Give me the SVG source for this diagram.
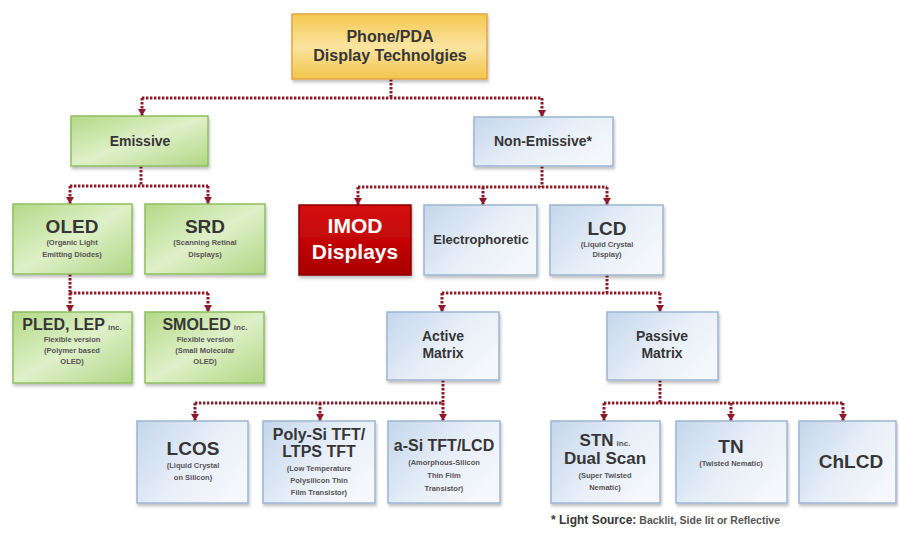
<svg xmlns="http://www.w3.org/2000/svg" width="899" height="543" viewBox="0 0 899 543">
<defs>
  <linearGradient id="gY" x1="0" y1="0" x2="0" y2="1">
    <stop offset="0" stop-color="#f3c850"/>
    <stop offset="0.5" stop-color="#fbe4a0"/>
    <stop offset="1" stop-color="#f2c54c"/>
  </linearGradient>
  <linearGradient id="gG" x1="0" y1="0" x2="1" y2="1">
    <stop offset="0" stop-color="#b3d987"/>
    <stop offset="0.5" stop-color="#dff0c8"/>
    <stop offset="1" stop-color="#b0d684"/>
  </linearGradient>
  <linearGradient id="gB" x1="0" y1="0" x2="1" y2="0.6">
    <stop offset="0" stop-color="#c4d6ec"/>
    <stop offset="0.6" stop-color="#e8eff8"/>
    <stop offset="1" stop-color="#f4f7fb"/>
  </linearGradient>
  <linearGradient id="gR" x1="0" y1="0" x2="0" y2="1">
    <stop offset="0" stop-color="#d40e0e"/>
    <stop offset="0.5" stop-color="#c40606"/>
    <stop offset="1" stop-color="#a80000"/>
  </linearGradient>
  <filter id="sh" x="-10%" y="-10%" width="125%" height="130%">
    <feDropShadow dx="1" dy="2.5" stdDeviation="1.5" flood-color="#000" flood-opacity="0.25"/>
  </filter>
  <marker id="arr" viewBox="0 0 7 8" refX="7" refY="4" markerWidth="7" markerHeight="8" markerUnits="userSpaceOnUse" orient="auto">
    <path d="M0,0 L7,4 L0,8 z" fill="#8c1b2a"/>
  </marker>
</defs>
<style>
  .con { fill: none; stroke: #8c1b2a; stroke-width: 3; stroke-dasharray: 2.4 1.6; }
  .drop { fill: none; stroke: #8c1b2a; stroke-width: 3; stroke-dasharray: 2.4 1.6; marker-end: url(#arr); }
  .y { fill: url(#gY); stroke: #e3a544; stroke-width: 1.5; filter: url(#sh); }
  .g { fill: url(#gG); stroke: #8fbf62; stroke-width: 1.5; filter: url(#sh); }
  .b { fill: url(#gB); stroke: #9cb5d4; stroke-width: 1.5; filter: url(#sh); }
  .r { fill: url(#gR); stroke: #8a0000; stroke-width: 1.5; filter: url(#sh); }
  text { font-family: "Liberation Sans", Arial, sans-serif; font-weight: bold; fill: #363636; text-anchor: middle; }
  .t15 { font-size: 15px; }
  .t14 { font-size: 14px; }
  .t13 { font-size: 13px; }
  .t18 { font-size: 19px; }
  .t17 { font-size: 16px; }
  .s { font-size: 7.5px; fill: #555; }
  .inc { font-size: 8px; fill: #555; }
  .w { font-size: 21px; fill: #ffffff; }
</style>

<g id="connectors">
  <path class="con" d="M391,79 V98 M142,98 H542"/>
  <path class="drop" d="M142,98 V116"/>
  <path class="drop" d="M542,98 V117"/>
  <path class="con" d="M141,166 V186 M70,186 H208"/>
  <path class="drop" d="M70,186 V204"/>
  <path class="drop" d="M208,186 V204"/>
  <path class="con" d="M70,274 V293 M70,293 H208"/>
  <path class="drop" d="M70,293 V312"/>
  <path class="drop" d="M208,293 V312"/>
  <path class="con" d="M542,166 V187 M358,187 H607"/>
  <path class="drop" d="M358,187 V205"/>
  <path class="drop" d="M483,187 V205"/>
  <path class="drop" d="M607,187 V205"/>
  <path class="con" d="M607,275 V293 M442,293 H660"/>
  <path class="drop" d="M442,293 V312"/>
  <path class="drop" d="M660,293 V312"/>
  <path class="con" d="M443,380 V403 M195,403 H443"/>
  <path class="drop" d="M195,403 V421"/>
  <path class="drop" d="M320,403 V421"/>
  <path class="drop" d="M443,403 V421"/>
  <path class="con" d="M660,380 V403 M604,403 H843"/>
  <path class="drop" d="M604,403 V421"/>
  <path class="drop" d="M731,403 V421"/>
  <path class="drop" d="M843,403 V421"/>
</g>

<g id="root">
  <rect class="y" x="292" y="14" width="195" height="65"/>
  <text class="t15" x="390" y="42" style="font-size:16px">Phone/PDA</text>
  <text class="t15" x="390" y="61" style="font-size:16px">Display Technolgies</text>
</g>

<g id="emissive">
  <rect class="g" x="71" y="116" width="137" height="50"/>
  <text class="t14" x="140" y="146">Emissive</text>
</g>

<g id="non-emissive">
  <rect class="b" x="474" y="117" width="139" height="49"/>
  <text class="t14" x="543" y="146">Non-Emissive*</text>
</g>

<g id="oled">
  <rect class="g" x="13" y="204" width="119" height="70"/>
  <text class="t18" x="72" y="233">OLED</text>
  <text class="s" x="72" y="245">(Organic Light</text>
  <text class="s" x="72" y="257">Emitting Diodes)</text>
</g>

<g id="srd">
  <rect class="g" x="145" y="204" width="120" height="70"/>
  <text class="t18" x="205" y="233">SRD</text>
  <text class="s" x="205" y="245">(Scanning Retinal</text>
  <text class="s" x="205" y="257">Displays)</text>
</g>

<g id="pled">
  <rect class="g" x="13" y="312" width="119" height="71"/>
  <text x="72" y="330"><tspan class="t17">PLED, LEP</tspan><tspan class="inc" dx="3">inc.</tspan></text>
  <text class="s" x="72" y="342">Flexible version</text>
  <text class="s" x="72" y="353">(Polymer based</text>
  <text class="s" x="72" y="364">OLED)</text>
</g>

<g id="smoled">
  <rect class="g" x="145" y="312" width="119" height="71"/>
  <text x="205" y="330"><tspan class="t17">SMOLED</tspan><tspan class="inc" dx="3">inc.</tspan></text>
  <text class="s" x="205" y="342">Flexible version</text>
  <text class="s" x="205" y="353">(Small Molecular</text>
  <text class="s" x="205" y="364">OLED)</text>
</g>

<g id="imod">
  <rect class="r" x="299" y="205" width="112" height="70"/>
  <text class="w" x="355" y="233">IMOD</text>
  <text class="w" x="355" y="259">Displays</text>
</g>

<g id="electrophoretic">
  <rect class="b" x="424" y="205" width="113" height="70"/>
  <text class="t13" x="481" y="244">Electrophoretic</text>
</g>

<g id="lcd">
  <rect class="b" x="550" y="205" width="113" height="70"/>
  <text class="t18" x="607" y="235">LCD</text>
  <text class="s" x="607" y="247">(Liquid Crystal</text>
  <text class="s" x="607" y="257">Display)</text>
</g>

<g id="active-matrix">
  <rect class="b" x="387" y="312" width="112" height="68"/>
  <text class="t14" x="443" y="341">Active</text>
  <text class="t14" x="443" y="358">Matrix</text>
</g>

<g id="passive-matrix">
  <rect class="b" x="607" y="312" width="111" height="68"/>
  <text class="t14" x="662" y="341">Passive</text>
  <text class="t14" x="662" y="358">Matrix</text>
</g>

<g id="lcos">
  <rect class="b" x="137" y="421" width="111" height="82"/>
  <text class="t18" x="193" y="455">LCOS</text>
  <text class="s" x="193" y="468">(Liquid Crystal</text>
  <text class="s" x="193" y="480">on Silicon)</text>
</g>

<g id="poly-si">
  <rect class="b" x="263" y="421" width="112" height="82"/>
  <text class="t17" x="319" y="440">Poly-Si TFT/</text>
  <text class="t17" x="319" y="457">LTPS TFT</text>
  <text class="s" x="319" y="471">(Low Temperature</text>
  <text class="s" x="319" y="483">Polysilicon Thin</text>
  <text class="s" x="319" y="495">Film Transistor)</text>
</g>

<g id="a-si">
  <rect class="b" x="388" y="421" width="112" height="82"/>
  <text class="t17" x="444" y="451">a-Si TFT/LCD</text>
  <text class="s" x="444" y="465">(Amorphous-Silicon</text>
  <text class="s" x="444" y="478">Thin Film</text>
  <text class="s" x="444" y="491">Transistor)</text>
</g>

<g id="stn">
  <rect class="b" x="551" y="421" width="109" height="82"/>
  <text x="605" y="446"><tspan class="t17" style="font-size:17px">STN</tspan><tspan class="inc" dx="3">inc.</tspan></text>
  <text class="t17" x="605" y="464" style="font-size:17px">Dual Scan</text>
  <text class="s" x="605" y="478">(Super Twisted</text>
  <text class="s" x="605" y="490">Nematic)</text>
</g>

<g id="tn">
  <rect class="b" x="676" y="421" width="111" height="82"/>
  <text class="t18" x="731" y="453">TN</text>
  <text class="s" x="731" y="466">(Twisted Nematic)</text>
</g>

<g id="chlcd">
  <rect class="b" x="799" y="421" width="97" height="82"/>
  <text class="t18" x="851" y="468">ChLCD</text>
</g>

<g id="footnote">
  <text x="551" y="524" style="text-anchor:start"><tspan style="font-size:12px">* Light Source:</tspan><tspan style="font-size:10.5px;fill:#555" dx="3">Backlit, Side lit or Reflective</tspan></text>
</g>
</svg>
